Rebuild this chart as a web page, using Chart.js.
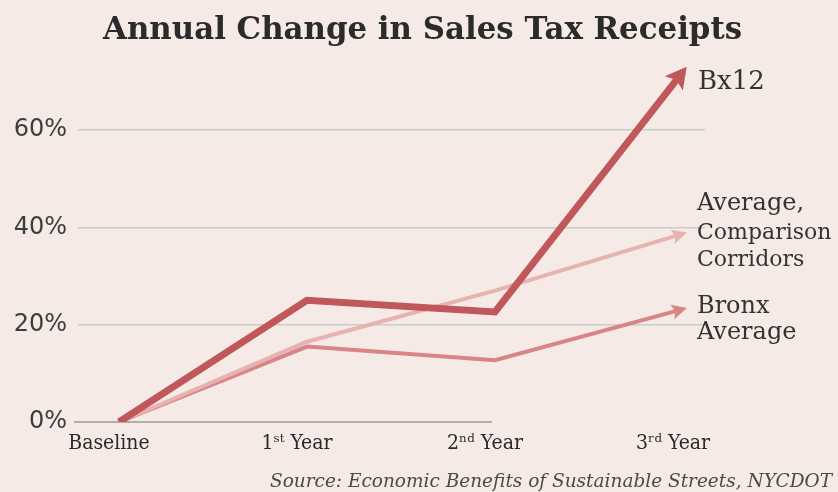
<!DOCTYPE html>
<html><head><meta charset="utf-8">
<script src="https://cdn.jsdelivr.net/npm/chart.js@4.4.1/dist/chart.umd.min.js"></script>
<style>html,body{margin:0;padding:0;background:#f5eae6;overflow:hidden}</style>
</head><body>
<canvas id="c" width="838" height="492"></canvas>
<script>
// ---- data ----
const categories = ['Baseline', '1ˢᵗ Year', '2ⁿᵈ Year', '3ʳᵈ Year'];
const bx12 = [0, 25, 22.6, 72];
const comparison = [0, 16.5, 27, 38.7];
const bronx = [0, 15.5, 12.7, 23.2];
const yTicks = [0, 20, 40, 60];
const seriesNames = ['Bx12', 'Average, Comparison Corridors', 'Bronx Average'];
const titleText = 'Annual Change in Sales Tax Receipts';
const sourceText = 'Source: Economic Benefits of Sustainable Streets, NYCDOT';

const toXY = arr => arr.map((v, i) => ({x: i, y: v}));
const BG = '#f5eae6';
const arrowSizes = [[21, 23, 6], [15, 15, 4], [15, 15, 4]]; // length, width, tip extension

const decor = {
  id: 'decor',
  beforeDraw(chart) {
    const ctx = chart.ctx;
    ctx.save(); ctx.fillStyle = BG; ctx.fillRect(0, 0, chart.width, chart.height); ctx.restore();
  },
  beforeDatasetsDraw(chart) {
    const {ctx, chartArea, scales: {x, y}} = chart;
    const py = y.getPixelForValue(0);
    ctx.save();
    ctx.strokeStyle = '#9a9a9a'; ctx.lineWidth = 1.5;
    ctx.beginPath(); ctx.moveTo(chartArea.left - 4, py); ctx.lineTo(x.getPixelForValue(2) - 3, py); ctx.stroke();
    ctx.restore();
  },
  afterDatasetsDraw(chart) {
    const ctx = chart.ctx;
    chart.data.datasets.forEach((ds, i) => {
      const pts = chart.getDatasetMeta(i).data;
      const a = pts[pts.length - 2], b = pts[pts.length - 1];
      const ang = Math.atan2(b.y - a.y, b.x - a.x);
      const [L, W, ext] = arrowSizes[i];
      ctx.save();
      ctx.translate(b.x, b.y); ctx.rotate(ang);
      ctx.fillStyle = ds.borderColor;
      ctx.beginPath();
      ctx.moveTo(ext, 0);
      ctx.lineTo(ext - L, -W / 2);
      ctx.lineTo(ext - L * 0.8, 0);
      ctx.lineTo(ext - L, W / 2);
      ctx.closePath(); ctx.fill();
      ctx.restore();
    });
  },
  afterDraw(chart) {
    const ctx = chart.ctx;
    ctx.save();
    ctx.fillStyle = '#2b2b2b';
    // title
    ctx.font = 'bold 32px "DejaVu Serif"';
    ctx.textBaseline = 'alphabetic'; ctx.textAlign = 'left';
    let w = ctx.measureText(titleText).width;
    let sx = 639 / w;
    ctx.save(); ctx.translate(103, 39); ctx.scale(sx, 1); ctx.fillText(titleText, 0, 0); ctx.restore();
    // source
    ctx.fillStyle = '#4a4a4a';
    ctx.font = 'italic 19px "DejaVu Serif"';
    w = ctx.measureText(sourceText).width;
    sx = 562 / w;
    ctx.save(); ctx.translate(270, 487); ctx.scale(sx, 1); ctx.fillText(sourceText, 0, 0); ctx.restore();
    // end labels
    ctx.fillStyle = '#333';
    ctx.font = '26px "DejaVu Serif"'; ctx.fillText('Bx12', 698, 89);
    ctx.font = '24px "DejaVu Serif"'; ctx.fillText('Average,', 697, 210);
    ctx.font = '22px "DejaVu Serif"'; ctx.fillText('Comparison', 697, 239); ctx.fillText('Corridors', 697, 266);
    ctx.font = '24px "DejaVu Serif"'; ctx.fillText('Bronx', 697, 313); ctx.fillText('Average', 697, 339);
    ctx.restore();
  }
};

new Chart(document.getElementById('c'), {
  type: 'line',
  data: {
    datasets: [
      {label: seriesNames[0], data: toXY(bx12), borderColor: '#bf575b', borderWidth: 7},
      {label: seriesNames[1], data: toXY(comparison), borderColor: '#e7b3b1', borderWidth: 4},
      {label: seriesNames[2], data: toXY(bronx), borderColor: '#d98486', borderWidth: 4}
    ]
  },
  options: {
    responsive: false, animation: false,
    layout: {padding: {left: 0, right: 133, top: 57, bottom: 40}},
    elements: {point: {radius: 0}, line: {tension: 0, borderJoinStyle: 'miter', borderCapStyle: 'butt', fill: false}},
    plugins: {legend: {display: false}, tooltip: {enabled: false}, title: {display: false}},
    scales: {
      x: {
        type: 'linear', min: -0.218, max: 3.117,
        afterBuildTicks: s => { s.ticks = categories.map((c, i) => ({value: i})); },
        afterFit: s => { s.height = 30; },
        grid: {display: false}, border: {display: false},
        ticks: {
          callback: v => categories[v], padding: 1, labelOffset: -10,
          color: '#2a2a2a', maxRotation: 0, autoSkip: false,
          font: {family: '"DejaVu Serif Condensed", "DejaVu Serif"', size: 21}
        }
      },
      y: {
        type: 'linear', min: 0, max: 75,
        afterBuildTicks: s => { s.ticks = yTicks.map(v => ({value: v})); },
        afterFit: s => { s.width = 78; },
        grid: {color: c => (c.tick && c.tick.value === 0) ? 'rgba(0,0,0,0)' : '#c7cbca', lineWidth: 1.5, drawTicks: false},
        border: {display: false},
        ticks: {padding: 11, color: '#3d3d3d', font: {family: '"DejaVu Sans"', size: 24}, callback: v => v + '%'}
      }
    }
  },
  plugins: [decor]
});
</script>
</body></html>
